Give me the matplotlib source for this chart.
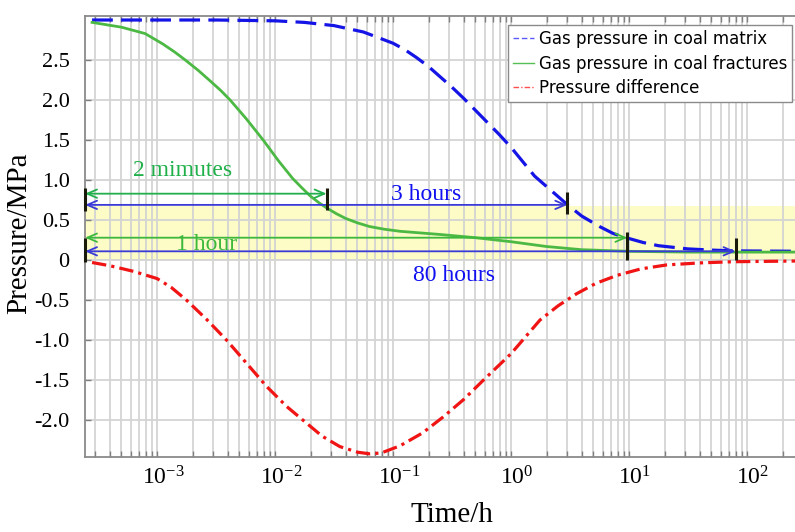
import numpy as np
import matplotlib
matplotlib.use("Agg")
import matplotlib.pyplot as plt
import matplotlib.transforms as mtransforms
from matplotlib.lines import Line2D
from matplotlib.ticker import LogLocator, FixedLocator, FixedFormatter, NullFormatter

plt.rcParams['font.family'] = ['Liberation Serif', 'DejaVu Serif']
plt.rcParams['mathtext.fontset'] = 'custom'
plt.rcParams['mathtext.rm'] = 'Liberation Serif'
plt.rcParams['mathtext.it'] = 'Liberation Serif:italic'

# ---------------- data ----------------
# log10(time in hours) vs pressure (MPa)
matrix_logt = [-3.55, -3.0, -2.5, -2.0, -1.75, -1.5, -1.25, -1.0, -0.9, -0.8, -0.7,
               -0.6, -0.5, -0.4, -0.3, -0.2, -0.1, 0.0, 0.1, 0.2, 0.34, 0.48, 0.6,
               0.75, 0.87, 1.0, 1.12, 1.25, 1.5, 1.7, 1.9, 2.5]
matrix_p = [3.0, 3.0, 3.0, 2.99, 2.97, 2.93, 2.85, 2.71, 2.63, 2.53, 2.42,
            2.29, 2.16, 2.02, 1.87, 1.72, 1.57, 1.41, 1.23, 1.05, 0.87, 0.69, 0.55,
            0.42, 0.33, 0.27, 0.22, 0.18, 0.14, 0.125, 0.115, 0.11]

fract_logt = [-3.55, -3.3, -3.1, -2.95, -2.85, -2.76, -2.65, -2.55, -2.46, -2.38,
              -2.24, -2.1, -1.97, -1.85, -1.77, -1.7, -1.63, -1.56, -1.48, -1.4,
              -1.3, -1.2, -1.07, -0.94, -0.6, -0.3, 0.0, 0.3, 0.6, 1.0, 1.5, 2.5]
fract_p = [2.97, 2.91, 2.83, 2.7, 2.6, 2.5, 2.37, 2.24, 2.12, 2.0,
           1.76, 1.5, 1.24, 1.02, 0.9, 0.8, 0.72, 0.65, 0.58, 0.52,
           0.465, 0.42, 0.385, 0.36, 0.32, 0.28, 0.23, 0.17, 0.13, 0.11, 0.1, 0.1]

diff_logt = [-3.55, -3.4, -3.2, -3.0, -2.88, -2.75, -2.58, -2.41, -2.24, -2.07,
             -1.9, -1.73, -1.6, -1.45, -1.3, -1.2, -1.1, -0.94, -0.75, -0.575,
             -0.4, -0.234, 0.0, 0.245, 0.4, 0.556, 0.72, 0.9, 1.1, 1.32, 1.6, 1.885, 2.5]
diff_p = [-0.03, -0.07, -0.14, -0.23, -0.34, -0.5, -0.74, -1.0, -1.29, -1.58,
          -1.83, -2.04, -2.2, -2.33, -2.40, -2.42, -2.41, -2.32, -2.16, -1.96,
          -1.74, -1.5, -1.17, -0.75, -0.57, -0.42, -0.29, -0.19, -0.11, -0.06, -0.035, -0.02, -0.01]

series_labels = ["Gas pressure in coal matrix", "Gas pressure in coal fractures",
                 "Pressure difference"]

# annotations: arrows from the left edge to a time (h) at a pressure level
arrow_texts = ["2 mimutes", "3 hours", "1 hour", "80 hours"]
arrow_end_t = [0.0274, 3.0, 9.7, 80.0]
arrow_y = [0.83, 0.69, 0.28, 0.11]
marker_lo = [0.63, 0.58, 0.0, 0.0]
marker_hi = [0.90, 0.85, 0.35, 0.28]
text_t = [1.64e-3, 0.191, 2.64e-3, 0.327]
text_y = [1.125, 0.82, 0.20, -0.19]

band_lo, band_hi = 0.0, 0.68

ytick_vals = [-2.0, -1.5, -1.0, -0.5, 0.0, 0.5, 1.0, 1.5, 2.0, 2.5]
ytick_labels = ["-2.0", "-1.5", "-1.0", "-0.5", "0", "0.5", "1.0", "1.5", "2.0", "2.5"]
xtick_vals = [1e-3, 1e-2, 1e-1, 1e0, 1e1, 1e2]
xtick_labels = [r"$10^{-3}$", r"$10^{-2}$", r"$10^{-1}$", r"$10^{0}$", r"$10^{1}$", r"$10^{2}$"]

# ---------------- figure ----------------
W, H = 795, 532
fig = plt.figure(figsize=(W / 100, H / 100), dpi=100)
ax_l, ax_r, ax_t, ax_b = 85, 805, 16, 457
ax = fig.add_axes([ax_l / W, (H - ax_b) / H, (ax_r - ax_l) / W, (ax_b - ax_t) / H])

dec_px = 118.0
lmin = -3.61
xmin = 10 ** lmin
xmax = 10 ** (lmin + (ax_r - ax_l) / dec_px)
ax.set_xscale('log')
ax.set_xlim(xmin, xmax)
ax.set_ylim(-2.46, 3.05)

# band
ax.axhspan(band_lo, band_hi, color='#fdfbc6', zorder=0.5, lw=0)

# grid
ax.grid(True, which='major', axis='both', color='#d4d4d4', lw=1.3, zorder=0.6)
ax.grid(True, which='minor', axis='x', color='#d4d4d4', lw=1.3, zorder=0.6)
ax.set_axisbelow(True)

blue = '#1414e6'
green = '#4cb944'
red = '#f01414'

t_m = 10 ** np.array(matrix_logt)
t_f = 10 ** np.array(fract_logt)
t_d = 10 ** np.array(diff_logt)
ax.plot(t_m, matrix_p, color=blue, lw=2.3, ls=(0, (6.5, 2.6)), zorder=3)
ax.plot(t_f, fract_p, color=green, lw=2.0, zorder=3)
ax.plot(t_d, diff_p, color=red, lw=2.3, ls=(0, (4.5, 1.6, 1.0, 1.6)), zorder=3)

# arrows
arrow_cols = ['#22b04c', '#3a3ad8', '#3cb83c', '#3a3ad8']
text_cols = ['#1fb04a', '#1010f0', '#3cb83c', '#1010f0']
for i in range(len(arrow_texts)):
    ax.annotate('', xy=(arrow_end_t[i], arrow_y[i]), xytext=(xmin, arrow_y[i]),
                arrowprops=dict(arrowstyle='<->,head_length=0.7,head_width=0.3',
                                color=arrow_cols[i], lw=1.3, shrinkA=0, shrinkB=0),
                zorder=4)
    ax.vlines(arrow_end_t[i], marker_lo[i], marker_hi[i], color='#1a1a0a', lw=2.2, zorder=5)
    ax.text(text_t[i], text_y[i], arrow_texts[i], color=text_cols[i], fontsize=17,
            ha='center', va='center', zorder=6)

# left edge markers
ax.vlines([xmin, xmin], [0.61, -0.02], [0.90, 0.275], color='#1a1a0a', lw=2.2,
          zorder=5, clip_on=False)

# ticks
ax.xaxis.set_major_locator(FixedLocator(xtick_vals))
ax.xaxis.set_major_formatter(FixedFormatter(xtick_labels))
ax.xaxis.set_minor_locator(LogLocator(base=10, subs=np.arange(2, 10), numticks=100))
ax.xaxis.set_minor_formatter(NullFormatter())
ax.yaxis.set_major_locator(FixedLocator(ytick_vals))
ax.yaxis.set_major_formatter(FixedFormatter(ytick_labels))
ax.tick_params(axis='x', which='both', direction='in', top=True, bottom=True,
               length=4, width=1, color='#808080', labelsize=17, pad=7)
ax.tick_params(axis='y', which='both', direction='in', left=True, right=False,
               length=4, width=1, color='#808080', labelsize=16, pad=11)

offset = mtransforms.ScaledTranslation(6 / 100, 0, fig.dpi_scale_trans)
for lab in ax.get_xticklabels():
    lab.set_transform(lab.get_transform() + offset)

for s in ['left', 'bottom', 'top']:
    ax.spines[s].set_color('#8a8a8a')
    ax.spines[s].set_linewidth(1.3)
ax.spines['right'].set_visible(False)

ax.set_xlabel("Time/h", fontsize=21)
ax.set_ylabel("Pressure/MPa", fontsize=21)
ax.xaxis.set_label_coords((452 - ax_l) / (ax_r - ax_l), -(502 - ax_b) / (ax_b - ax_t))
ax.yaxis.set_label_coords(-(ax_l - 32) / (ax_r - ax_l), (ax_b - 233) / (ax_b - ax_t))

# legend
handles = [Line2D([], [], color='#5a5aff', lw=1.0, ls=(0, (4, 2))),
           Line2D([], [], color='#55c055', lw=1.0),
           Line2D([], [], color='#ff5050', lw=1.0, ls=(0, (4, 1.5, 1, 1.5)))]
leg = ax.legend(handles, series_labels, loc='upper right',
                bbox_to_anchor=((792 - ax_l) / (ax_r - ax_l), (ax_b - 25) / (ax_b - ax_t)),
                borderaxespad=0, prop={'family': 'DejaVu Sans', 'size': 12},
                fancybox=False, framealpha=1, edgecolor='#8a8a8a', handlelength=1.3,
                handletextpad=0.25, borderpad=0.3, labelspacing=0.4)
leg.get_frame().set_linewidth(1.0)
leg.set_zorder(10)

fig.savefig("out.png", dpi=100)
